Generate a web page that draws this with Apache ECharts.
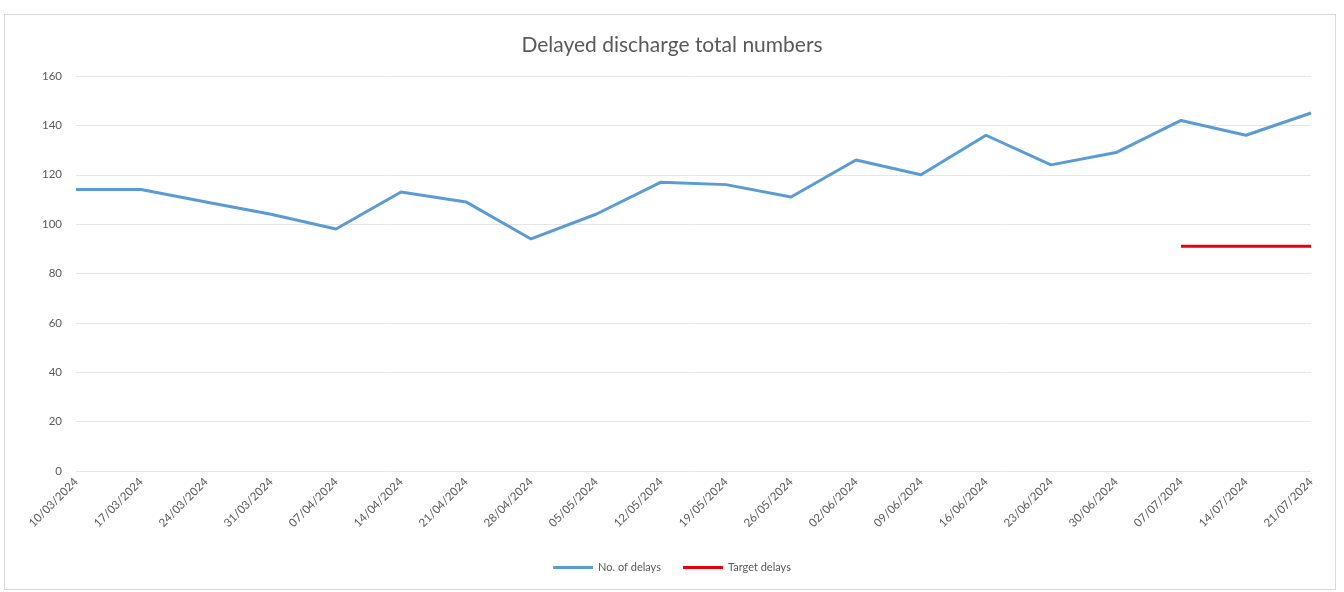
<!DOCTYPE html>
<html>
<head>
<meta charset="utf-8">
<script src="https://cdn.jsdelivr.net/npm/echarts@6/dist/echarts.min.js"></script>
<style>
  html, body { margin: 0; padding: 0; background: #fff; }
  #frame { position: absolute; left: 4px; top: 14px; width: 1330px; height: 574px; border: 1px solid #d9d9d9; }
  #chart { position: absolute; left: 0; top: 0; width: 1344px; height: 592px; }
</style>
</head>
<body>
<div id="frame"></div>
<div id="chart"></div>
<script>
// week-ending dates
const weeks = [
  '10/03/2024', '17/03/2024', '24/03/2024', '31/03/2024', '07/04/2024',
  '14/04/2024', '21/04/2024', '28/04/2024', '05/05/2024', '12/05/2024',
  '19/05/2024', '26/05/2024', '02/06/2024', '09/06/2024', '16/06/2024',
  '23/06/2024', '30/06/2024', '07/07/2024', '14/07/2024', '21/07/2024'
];
const delays = [114, 114, 109, 104, 98, 113, 109, 94, 104, 117, 116, 111, 126, 120, 136, 124, 129, 142, 136, 145];
// target only shown for the last three weeks
const target = [null, null, null, null, null, null, null, null, null, null, null, null, null, null, null, null, null, 91, 91, 91];

const chart = echarts.init(document.getElementById('chart'));

const textColor = '#595959';
const font = 'Lato, "Open Sans", sans-serif';

chart.setOption({
  animation: false,
  title: {
    text: 'Delayed discharge total numbers',
    left: 'center',
    top: 30,
    textStyle: { fontFamily: font, fontSize: 21, fontWeight: 'normal', color: textColor }
  },
  legend: {
    bottom: 14,
    left: 'center',
    itemWidth: 40,
    itemHeight: 3,
    itemGap: 22,
    icon: 'rect',
    textStyle: { fontFamily: font, fontSize: 11, color: textColor },
    data: ['No. of delays', 'Target delays']
  },
  grid: { left: 76, right: 33, top: 76, bottom: 121 },
  xAxis: {
    type: 'category',
    boundaryGap: false,
    data: weeks,
    axisLine: { show: false },
    axisTick: { show: false },
    axisLabel: { rotate: 45, fontFamily: font, fontSize: 11.5, color: textColor, margin: 9, interval: 0 }
  },
  yAxis: {
    type: 'value',
    min: 0,
    max: 160,
    interval: 20,
    axisLine: { show: false },
    axisTick: { show: false },
    axisLabel: { fontFamily: font, fontSize: 11.5, color: textColor, margin: 14 },
    splitLine: { lineStyle: { color: '#e6e6e6', width: 1 } }
  },
  series: [
    {
      name: 'No. of delays',
      type: 'line',
      data: delays,
      symbol: 'none',
      lineStyle: { color: '#5b9bd5', width: 3 },
      itemStyle: { color: '#5b9bd5' }
    },
    {
      name: 'Target delays',
      type: 'line',
      data: target,
      symbol: 'none',
      lineStyle: { color: '#e8000b', width: 3 },
      itemStyle: { color: '#e8000b' }
    }
  ]
});
</script>
</body>
</html>
